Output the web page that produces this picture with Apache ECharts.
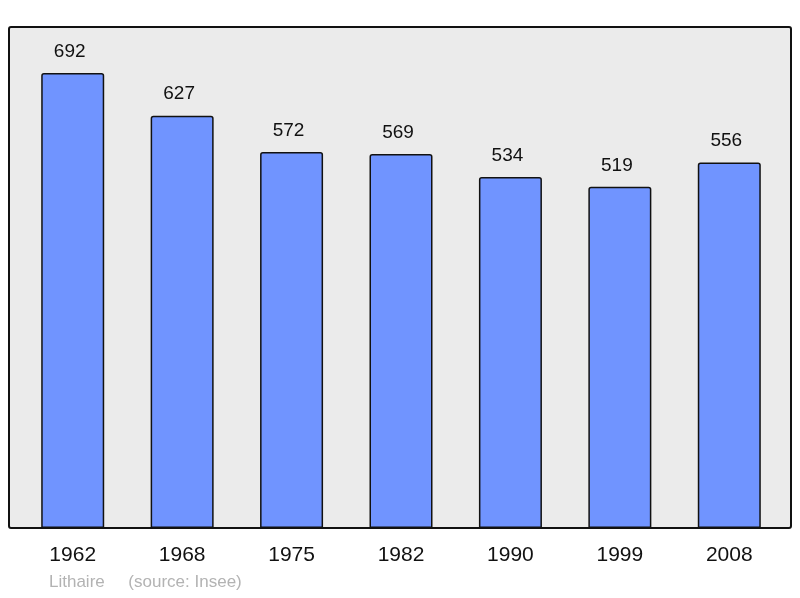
<!DOCTYPE html>
<html><head><meta charset="utf-8">
<script src="https://cdn.jsdelivr.net/npm/echarts@6/dist/echarts.min.js"></script>
<style>html,body{margin:0;padding:0;background:#fff}#c{width:800px;height:598px}</style>
</head><body><div id="c"></div>
<script>
const years = ['1962','1968','1975','1982','1990','1999','2008'];
const population = [692,627,572,569,534,519,556];
const chart = echarts.init(document.getElementById('c'));
chart.setOption({
  animation:false,
  textStyle:{fontFamily:'Liberation Sans'},
  graphic:[
    {type:'rect',z:-10,shape:{x:9,y:27,width:782,height:501,r:2},style:{fill:'#ebebeb',stroke:'#111',lineWidth:2}},
    {type:'text',left:49,top:574,style:{text:'Lithaire     (source: Insee)',fill:'#b3b3b3',font:'17px Liberation Sans'}}
  ],
  grid:{left:18,width:766,top:27,bottom:70},
  xAxis:{type:'category',data:years,axisLine:{show:false},axisTick:{show:false},
    axisLabel:{fontSize:21,color:'#111',margin:17}},
  yAxis:{type:'value',min:0,max:762,show:false,splitLine:{show:false}},
  series:[{type:'bar',data:population,barWidth:63,
    itemStyle:{color:'#7094ff',borderColor:'#111',borderWidth:1.5,borderRadius:[2,2,0,0]},
    label:{show:true,position:'top',distance:12,fontSize:19,color:'#111',offset:[-3,0]}}]
});
</script></body></html>
